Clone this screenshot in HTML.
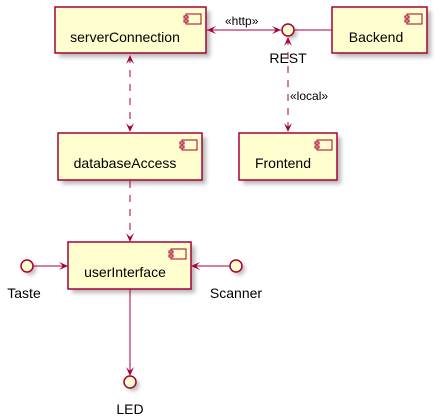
<!DOCTYPE html>
<html><head><meta charset="utf-8"><style>
html,body{margin:0;padding:0;background:#fff;}
svg{display:block;font-family:"Liberation Sans",sans-serif;}
</style></head><body>
<svg width="440" height="420" viewBox="0 0 440 420" xmlns="http://www.w3.org/2000/svg">
<defs>
<filter id="sh" x="-20%" y="-20%" width="150%" height="150%"><feGaussianBlur stdDeviation="2"/></filter>
<g id="ico">
<rect x="0" y="0" width="15" height="10" fill="#FEFECE" stroke="#A80036" stroke-width="1"/>
<rect x="-2" y="2" width="4" height="2" fill="#FEFECE" stroke="#A80036" stroke-width="1"/>
<rect x="-2" y="6" width="4" height="2" fill="#FEFECE" stroke="#A80036" stroke-width="1"/>
</g>
</defs>
<g fill="#888" opacity="0.6" filter="url(#sh)">
<rect x="59" y="11" width="151" height="46"/>
<rect x="336" y="11" width="95" height="46"/>
<rect x="62" y="137" width="144" height="47"/>
<rect x="243" y="137" width="98" height="47"/>
<rect x="72" y="246" width="123" height="47"/>
<circle cx="291" cy="33" r="6"/>
<circle cx="30" cy="269" r="6"/>
<circle cx="239" cy="269" r="6"/>
<circle cx="133" cy="385" r="6"/>
</g>
<g fill="#FEFECE" stroke="#A80036" stroke-width="1.5">
<rect x="55" y="7" width="151" height="46"/>
<rect x="332" y="7" width="95" height="46"/>
<rect x="58" y="133" width="144" height="47"/>
<rect x="239" y="133" width="98" height="47"/>
<rect x="68" y="242" width="123" height="47"/>
<circle cx="288" cy="30" r="6"/>
<circle cx="27" cy="266" r="6"/>
<circle cx="236" cy="266" r="6"/>
<circle cx="130" cy="382" r="6"/>
</g>
<use href="#ico" x="186" y="14"/>
<use href="#ico" x="407" y="14"/>
<use href="#ico" x="182" y="140"/>
<use href="#ico" x="317" y="140"/>
<use href="#ico" x="171" y="249"/>
<g font-size="14" fill="#000" text-anchor="middle">
<text x="125" y="42">serverConnection</text>
<text x="376" y="42">Backend</text>
<text x="125" y="168">databaseAccess</text>
<text x="283" y="168">Frontend</text>
<text x="125" y="277">userInterface</text>
<text x="288" y="63">REST</text>
<text x="24" y="298">Taste</text>
<text x="236" y="298">Scanner</text>
<text x="130" y="414">LED</text>
</g>
<g font-size="12" fill="#000">
<text x="225" y="25">«http»</text>
<text x="290" y="100">«local»</text>
</g>
<g stroke="#A80036" stroke-width="1" fill="none">
<line x1="207" y1="30" x2="281" y2="30"/>
<line x1="294" y1="30" x2="332" y2="30"/>
<line x1="130" y1="56" x2="130" y2="131" stroke-dasharray="7,7"/>
<line x1="288" y1="38" x2="288" y2="131" stroke-dasharray="7,7"/>
<line x1="130" y1="181" x2="130" y2="241" stroke-dasharray="7,7"/>
<line x1="33" y1="266" x2="67" y2="266"/>
<line x1="230" y1="266" x2="192" y2="266"/>
<line x1="130" y1="289" x2="130" y2="375"/>
</g>
<g fill="#A80036">
<polygon points="207,30 216,26 212,30 216,34"/>
<polygon points="281,30 272,26 276,30 272,34"/>
<polygon points="130,55 126,64 130,60 134,64"/>
<polygon points="130,132 126,123 130,127 134,123"/>
<polygon points="288,37 284,46 288,42 292,46"/>
<polygon points="288,132 284,123 288,127 292,123"/>
<polygon points="130,242 126,233 130,237 134,233"/>
<polygon points="68,266 59,262 63,266 59,270"/>
<polygon points="191,266 200,262 196,266 200,270"/>
<polygon points="130,376 126,367 130,371 134,367"/>
</g>
</svg>
</body></html>
